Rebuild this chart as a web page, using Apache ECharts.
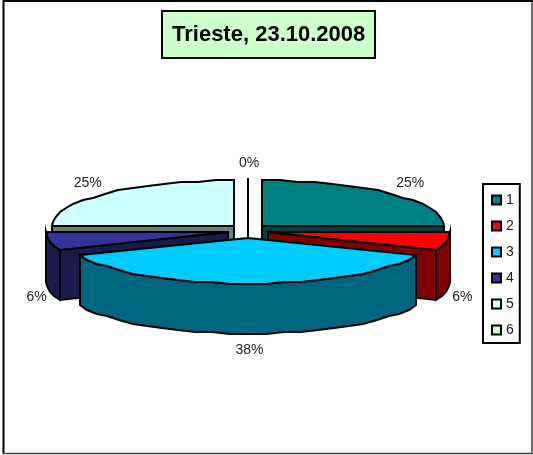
<!DOCTYPE html>
<html><head><meta charset="utf-8">
<style>html,body{margin:0;padding:0;background:#fff}#c{width:533px;height:455px}</style>
<script src="https://cdn.jsdelivr.net/npm/echarts@6/dist/echarts.min.js"></script>
</head><body><div id="c"></div>
<script>
const chartTitle = 'Trieste, 23.10.2008';
const categories = ['1','2','3','4','5','6'];
const values = [4,1,6,1,4,0];
const percentLabels = ['25%','6%','38%','6%','25%','0%'];
const topColors = ['#008080','#ff0000','#00ccff','#333399','#ccffff','#ccffcc'];
const wallColors = ['#004040','#800000','#006680','#1a1a4d','#668080','#668066'];
const paintOrder = [1,3,4,3,1,2];

const CX=248, CY=231, RX=182, RY=46, DEPTH=50, EXPLODE_X=20, EXPLODE_Y=6.7, GRID=2;
const total = values.reduce((a,b)=>a+b,0);
const q = v => Math.round(v/GRID)*GRID;
function sliceShape(i){
  const before = values.slice(0,i).reduce((a,b)=>a+b,0);
  const a0 = before/total*2*Math.PI, a1 = (before+values[i])/total*2*Math.PI, mid=(a0+a1)/2;
  const ax = CX+Math.sin(mid)*EXPLODE_X, ay = CY-Math.cos(mid)*EXPLODE_Y;
  const pt = t => [ax+Math.sin(t)*RX, ay-Math.cos(t)*RY];
  const n = Math.max(1,Math.round((a1-a0)/(Math.PI/32)));
  const arc=[];
  for(let k=0;k<=n;k++){
    const p=pt(a0+(a1-a0)*k/n);
    arc.push(k===0||k===n?[Math.round(p[0]),Math.round(p[1])]:[Math.round(p[0]),q(p[1])]);
  }
  return {a0,a1,mid,apex:[Math.round(ax),Math.round(ay)],arc};
}
const down = p => [p[0],p[1]+DEPTH];
function renderSlice(i){
  const s = sliceShape(i);
  const top={fill:topColors[i],stroke:'#000',lineWidth:2,lineJoin:'miter'};
  const wall={fill:wallColors[i],stroke:'#000',lineWidth:2,lineJoin:'miter'};
  const kids=[];
  const first=s.arc[0], last=s.arc[s.arc.length-1];
  if(Math.sin(s.a0)<0) kids.push({type:'polygon',shape:{points:[s.apex,first,down(first),down(s.apex)]},style:wall});
  if(Math.sin(s.a1)>0) kids.push({type:'polygon',shape:{points:[s.apex,last,down(last),down(s.apex)]},style:wall});
  const front=s.arc.filter((p,k)=>{
    const t=s.a0+(s.a1-s.a0)*k/(s.arc.length-1);
    return Math.cos(t)<=1e-6;
  });
  if(front.length>1) kids.push({type:'polygon',shape:{points:front.concat(front.map(down).reverse())},style:wall});
  kids.push({type:'polygon',shape:{points:[s.apex].concat(s.arc)},style:top});
  const c=Math.cos(s.mid), lower=c<0;
  const lx=CX+1+(lower?0.5:0)+Math.sin(s.mid)*(lower?217:228);
  const ly=CY+(lower?53-c*66:1-c*69);
  kids.push({type:'text',style:{text:percentLabels[i],x:lx,y:ly,align:'center',verticalAlign:'middle',fill:'#1a1a1a',font:'14px "Liberation Sans", Arial, sans-serif'},z2:50});
  return {type:'group',children:kids};
}
const chart = echarts.init(document.getElementById('c'),null,{renderer:'canvas'});
chart.setOption({
  animation:false,
  backgroundColor:'#fff',
  title:{text:chartTitle,left:162,top:11,padding:[13,10,13,10],backgroundColor:'#ccffcc',borderColor:'#000',borderWidth:2,
    textStyle:{color:'#000',fontFamily:'"Liberation Sans", Arial, sans-serif',fontWeight:'bold',fontSize:22,lineHeight:21}},
  legend:{data:categories,orient:'vertical',left:483,top:184,itemWidth:9,itemHeight:9,itemGap:12,padding:[9,6,6,8],
    borderColor:'#000',borderWidth:2,backgroundColor:'#fff',icon:'rect',selectedMode:false,
    itemStyle:{borderColor:'#000',borderWidth:2},
    textStyle:{color:'#1a1a1a',fontSize:14,fontFamily:'"Liberation Sans", Arial, sans-serif',lineHeight:13}},
  graphic:[
    {type:'polyline',z:-1,silent:true,shape:{points:[[3.5,454],[3.5,1],[533,1]]},style:{fill:'none',stroke:'#000',lineWidth:2}},
    {type:'polyline',z:-1,silent:true,shape:{points:[[3,453.5],[532,453.5],[532,1]]},style:{fill:'none',stroke:'#444',lineWidth:1.5}}
  ],
  series:categories.map((name,i)=>({
    type:'custom',name,coordinateSystem:'none',z:paintOrder[i]+1,silent:true,
    itemStyle:{color:topColors[i]},
    data:[[values[i]]],
    renderItem:()=>renderSlice(i)
  }))
});
</script></body></html>
